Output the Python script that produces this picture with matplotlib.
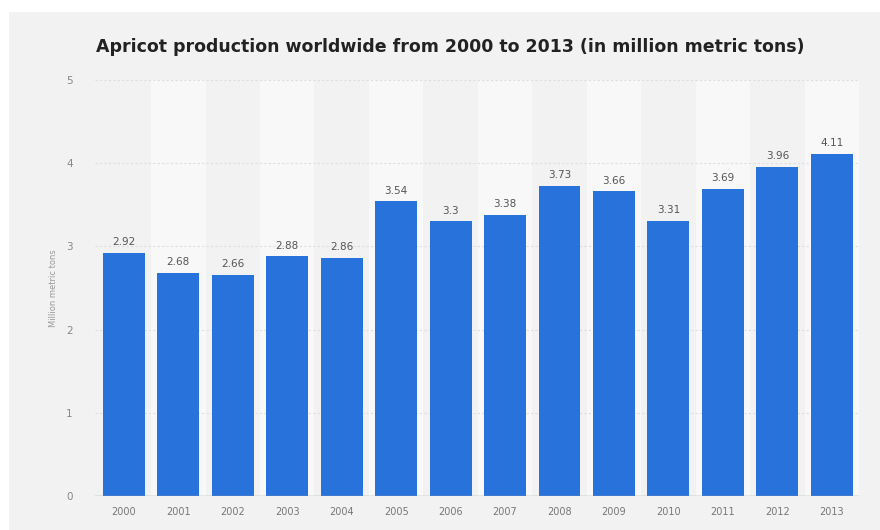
import matplotlib
matplotlib.use("Agg")
import matplotlib.pyplot as plt
from matplotlib.patches import Rectangle

years = ["2000", "2001", "2002", "2003", "2004", "2005", "2006",
         "2007", "2008", "2009", "2010", "2011", "2012", "2013"]
production = [2.92, 2.68, 2.66, 2.88, 2.86, 3.54, 3.3,
              3.38, 3.73, 3.66, 3.31, 3.69, 3.96, 4.11]
value_labels = ["2.92", "2.68", "2.66", "2.88", "2.86", "3.54", "3.3",
                "3.38", "3.73", "3.66", "3.31", "3.69", "3.96", "4.11"]
y_ticks = [0, 1, 2, 3, 4, 5]

fig = plt.figure(figsize=(8.8, 5.3), dpi=100, facecolor="white")

# light grey card behind the chart
fig.patches.append(Rectangle((9 / 880, 0), 1 - 9 / 880, 1 - 12 / 530,
                             transform=fig.transFigure, facecolor="#f2f2f2",
                             edgecolor="none", zorder=-10))

ax = fig.add_axes([95 / 880, 1 - 496 / 530, (859 - 95) / 880, (496 - 80) / 530])
ax.set_facecolor("none")

x = list(range(len(years)))

# alternating column bands
for i in x:
    if i % 2 == 1:
        ax.axvspan(i - 0.5, i + 0.5, ymin=0, ymax=1, facecolor="#f8f8f8",
                   edgecolor="none", zorder=0)

for yv in y_ticks[1:]:
    ax.axhline(yv, color="#dedede", lw=0.8, ls=(0, (2, 2)), zorder=1)
ax.axhline(0, color="#999999", lw=1.0, zorder=3)

ax.bar(x, production, width=0.77, color="#2872dc", zorder=2)

for xi, v, lab in zip(x, production, value_labels):
    ax.text(xi, v + 0.07, lab, ha="center", va="bottom", fontsize=7.5,
            color="#555555", zorder=4)

ax.set_xlim(-0.53, 13.5)
ax.set_ylim(0, 5)
ax.set_xticks(x)
ax.set_xticklabels(years, fontsize=7, color="#777777")
ax.set_yticks(y_ticks)
ax.set_yticklabels([str(t) for t in y_ticks], fontsize=7.5, color="#888888")
ax.tick_params(axis="both", length=0, pad=8)
ax.tick_params(axis="y", pad=16)
for s in ax.spines.values():
    s.set_visible(False)

ax.set_ylabel("Million metric tons", fontsize=6, color="#999999", labelpad=6)

fig.text(450 / 880, 1 - 47 / 530,
         "Apricot production worldwide from 2000 to 2013 (in million metric tons)",
         ha="center", va="center", fontsize=12.5, fontweight="bold", color="#222222")

fig.savefig("out.png", dpi=100, facecolor="white")
